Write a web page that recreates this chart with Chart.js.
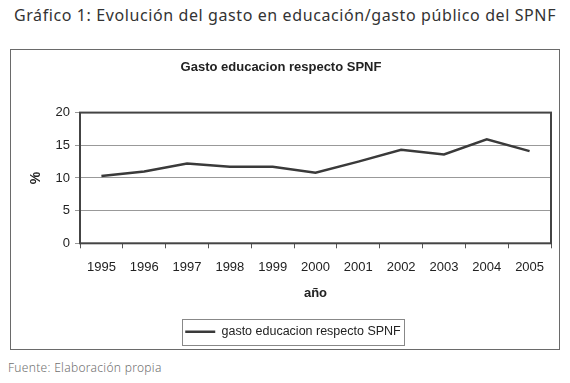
<!DOCTYPE html>
<html>
<head>
<meta charset="utf-8">
<script src="https://cdn.jsdelivr.net/npm/chart.js@4/dist/chart.umd.min.js"></script>
<style>
  html,body{margin:0;padding:0;background:#fff;}
  body{width:570px;height:383px;position:relative;overflow:hidden;}
  .heading{position:absolute;left:0;top:4px;width:570px;text-align:center;font-family:'Noto Sans',sans-serif;font-size:16px;color:#333;letter-spacing:0.6px;}
  .frame{position:absolute;left:10px;top:49px;width:548px;height:299px;border:1.5px solid #6a6a6a;}
  .frame canvas{position:absolute;left:0;top:0;}
  .source{position:absolute;left:8px;top:359px;font-family:'Noto Sans',sans-serif;font-size:12px;font-weight:300;color:#707070;letter-spacing:0.3px;}
</style>
</head>
<body>
<div class="heading">Gráfico 1: Evolución del gasto en educación/gasto público del SPNF</div>
<div class="frame"><canvas id="chart" width="548" height="299"></canvas></div>
<div class="source">Fuente: Elaboración propia</div>
<script>
/* ── Data ── */
const years=['1995','1996','1997','1998','1999','2000','2001','2002','2003','2004','2005'];
const gastoEducacion=[10.3,11.0,12.2,11.7,11.7,10.8,12.5,14.3,13.6,15.9,14.1];
const yTicks=[0,5,10,15,20];

const ink='#3a3a3a';
const axisFont="'Liberation Sans', Arial, sans-serif";

/* plot border, legend box, legend nudged right like the original */
const framePlugin={
  id:'framePlugin',
  afterLayout(chart){
    const lg=chart.legend;
    if(lg){lg.left+=12;lg.right+=12;}
  },
  afterDatasetsDraw(chart){
    const {ctx,chartArea:a}=chart;
    ctx.save();
    ctx.strokeStyle='#444';
    ctx.lineWidth=2;
    ctx.strokeRect(a.left,a.top,a.right-a.left,a.bottom-a.top);
    ctx.restore();
  },
  afterDraw(chart){
    const lg=chart.legend;
    if(!lg||!lg.legendHitBoxes||!lg.legendHitBoxes.length)return;
    const hb=lg.legendHitBoxes[0];
    const ctx=chart.ctx;
    ctx.save();
    ctx.strokeStyle='#888';
    ctx.lineWidth=1;
    ctx.strokeRect(Math.round(hb.left-3)+0.5,Math.round(hb.top-7)+0.5,Math.round(hb.width+6),Math.round(hb.height+13));
    ctx.restore();
  }
};

new Chart(document.getElementById('chart'),{
  type:'line',
  data:{
    labels:years,
    datasets:[{
      label:'gasto educacion respecto SPNF',
      data:gastoEducacion,
      borderColor:ink,
      borderWidth:2.5,
      pointRadius:0,
      tension:0,
      fill:false
    }]
  },
  options:{
    responsive:false,
    animation:false,
    layout:{padding:{left:0,right:8,top:6,bottom:1}},
    plugins:{
      title:{display:true,text:'Gasto educacion respecto SPNF',color:'#222',
        font:{family:axisFont,size:13,weight:'bold'},padding:{top:4,bottom:37}},
      legend:{display:true,position:'bottom',
        labels:{color:'#222',font:{family:axisFont,size:12.5},usePointStyle:true,pointStyle:'line',pointStyleWidth:30,padding:10}},
      tooltip:{enabled:false}
    },
    scales:{
      x:{
        offset:true,
        grid:{offset:true,drawOnChartArea:false,color:'#555',tickLength:5},
        border:{display:false},
        ticks:{color:'#222',font:{family:axisFont,size:13},padding:11,maxRotation:0},
        title:{display:true,text:'año',color:'#222',font:{family:axisFont,size:13,weight:'bold'},padding:{top:0,bottom:14}}
      },
      y:{
        min:0,max:20,
        afterBuildTicks(s){s.ticks=yTicks.map(v=>({value:v}));},
        grid:{color:'#999',lineWidth:1,tickLength:5},
        border:{display:false},
        ticks:{color:'#222',font:{family:axisFont,size:13},padding:5},
        title:{display:true,text:'%',color:'#222',font:{family:axisFont,size:14,weight:'bold'},padding:{top:17,bottom:6}},
        afterFit(s){s.width=69;}
      }
    }
  },
  plugins:[framePlugin]
});
</script>
</body>
</html>
